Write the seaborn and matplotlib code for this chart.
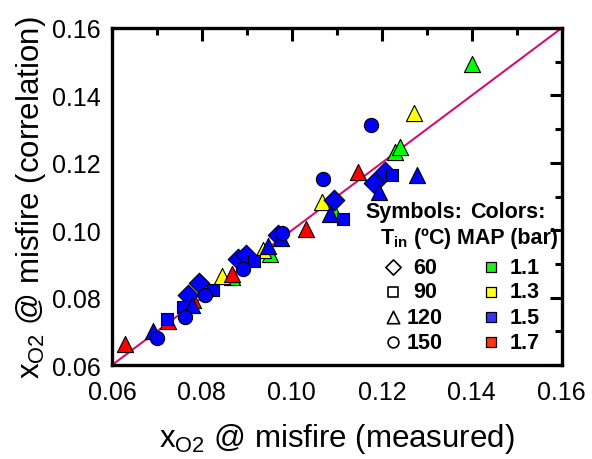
import pandas as pd
import seaborn as sns
import matplotlib.pyplot as plt

sns.set_style("white")
plt.rcParams['font.family'] = ['Liberation Sans', 'DejaVu Sans']
plt.rcParams['mathtext.fontset'] = 'custom'
plt.rcParams['mathtext.rm'] = 'Liberation Sans'
plt.rcParams['mathtext.bf'] = 'Liberation Sans:bold'
plt.rcParams['mathtext.default'] = 'regular'
plt.rcParams['text.color'] = 'black'
plt.rcParams['axes.labelcolor'] = 'black'
plt.rcParams['xtick.color'] = 'black'
plt.rcParams['ytick.color'] = 'black'

# measured, correlation, MAP (bar), T_in (C)
measured = [0.0629, 0.0724, 0.0780, 0.0867, 0.1031, 0.1147,
            0.0844, 0.0935, 0.1067, 0.1271, 0.0764,
            0.0867, 0.0951, 0.1093, 0.1229, 0.1240, 0.1400,
            0.0691, 0.0778, 0.0947, 0.0976, 0.1084, 0.1193, 0.1278,
            0.0769, 0.0793, 0.0880, 0.0898, 0.0969, 0.1093, 0.1182, 0.1207,
            0.0722, 0.0758, 0.0824, 0.0916, 0.1113, 0.1222,
            0.0700, 0.0762, 0.0807, 0.0891, 0.0978, 0.1069, 0.1176]
correlation = [0.0662, 0.0730, 0.0793, 0.0870, 0.1004, 0.1173,
               0.0864, 0.0941, 0.1084, 0.1348, 0.0784,
               0.0861, 0.0929, 0.1054, 0.1232, 0.1247, 0.1493,
               0.0701, 0.0778, 0.0953, 0.0977, 0.1048, 0.1113, 0.1164,
               0.0808, 0.0843, 0.0915, 0.0926, 0.0986, 0.1090, 0.1140, 0.1173,
               0.0737, 0.0772, 0.0823, 0.0909, 0.1033, 0.1164,
               0.0680, 0.0742, 0.0808, 0.0885, 0.0992, 0.1152, 0.1312]
map_bar = ["1.7"] * 6 + ["1.3"] * 5 + ["1.1"] * 6 + ["1.5"] * 28
t_in = [120] * 17 + [120] * 7 + [60] * 8 + [90] * 6 + [150] * 7

map_levels = ["1.1", "1.3", "1.5", "1.7"]
map_colors = ["#00ff00", "#ffff00", "#0000ff", "#ff0000"]
legend_colors = ["#22ee22", "#ffff22", "#3333ff", "#ff3311"]
t_levels = [60, 90, 120, 150]
t_markers = ["D", "s", "^", "o"]
t_sizes = [110, 80, 135, 105]
draw_order = ["1.1", "1.3", "1.7", "1.5"]

df = pd.DataFrame({"measured": measured, "correlation": correlation,
                   "MAP": map_bar, "Tin": t_in})

fig, ax = plt.subplots(figsize=(5.92, 4.6), dpi=100)
fig.subplots_adjust(left=0.189, right=0.949, top=0.937, bottom=0.204)

ax.plot([0.06, 0.16], [0.06, 0.16], color="#d1126e", lw=1.5, zorder=1)

pal = dict(zip(map_levels, map_colors))
z = 3
for mp in draw_order:
    for t, m, s in zip(t_levels, t_markers, t_sizes):
        sub = df[(df["MAP"] == mp) & (df["Tin"] == t)]
        if sub.empty:
            continue
        sns.scatterplot(data=sub, x="measured", y="correlation", color=pal[mp],
                        marker=m, s=s, edgecolor="black", linewidth=0.8,
                        legend=False, ax=ax, zorder=z)
    z += 1

ax.set_xlim(0.06, 0.16)
ax.set_ylim(0.06, 0.16)
ticks = [0.06, 0.08, 0.10, 0.12, 0.14, 0.16]
ax.set_xticks(ticks)
ax.set_yticks(ticks)
ax.set_xticklabels([f"{t:.2f}" for t in ticks])
ax.set_yticklabels([f"{t:.2f}" for t in ticks])
ax.set_xticks([0.07, 0.09, 0.11, 0.13, 0.15], minor=True)
ax.set_yticks([0.07, 0.09, 0.11, 0.13, 0.15], minor=True)
ax.tick_params(which="both", direction="in", top=True, right=True, width=2.2,
               labelsize=18, color="black")
ax.tick_params(which="major", length=9)
ax.tick_params(axis="x", which="major", pad=11)
ax.tick_params(axis="y", which="major", pad=8)
ax.tick_params(which="minor", length=5)
for sp in ax.spines.values():
    sp.set_linewidth(2.4)
    sp.set_color("black")

ax.set_xlabel("x$_{O2}$ @ misfire (measured)", fontsize=22.5, labelpad=12)
ax.set_ylabel("x$_{O2}$ @ misfire (correlation)", fontsize=22.5, labelpad=3)

# custom legend
fs = 15.5
ax.text(0.1272, 0.1057, "Symbols:", fontsize=fs, fontweight="bold", ha="center", va="center")
ax.text(0.1479, 0.1057, "Colors:", fontsize=fs, fontweight="bold", ha="center", va="center")
ax.text(0.1276, 0.0980, r"$\mathbf{T_{in}}$ (ºC)", fontsize=fs, fontweight="bold",
        ha="center", va="center")
ax.text(0.1480, 0.0980, "MAP (bar)", fontsize=fs, fontweight="bold", ha="center", va="center")
row_y = [0.0891, 0.0817, 0.0742, 0.0668]
leg_sizes = [60, 45, 80, 60]
for yy, t, m, s in zip(row_y, t_levels, t_markers, leg_sizes):
    ax.scatter([0.1224], [yy], marker=m, s=s, facecolor="white", edgecolor="black",
               linewidth=1.2, zorder=6)
    ax.text(0.1296, yy, str(t), fontsize=fs, fontweight="bold", ha="center", va="center")
for yy, lab, c in zip(row_y, map_levels, legend_colors):
    ax.scatter([0.1442], [yy], marker="s", s=45, facecolor=c, edgecolor="black",
               linewidth=0.9, zorder=6)
    ax.text(0.1517, yy, lab, fontsize=fs, fontweight="bold", ha="center", va="center")

plt.savefig("out.png", dpi=100)
